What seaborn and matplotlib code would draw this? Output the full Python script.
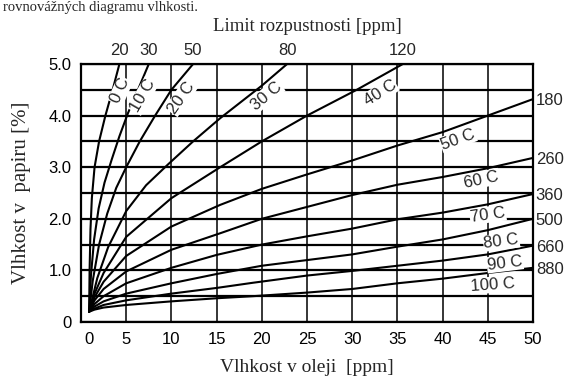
import numpy as np
import pandas as pd
import matplotlib
matplotlib.use("Agg")
import matplotlib.pyplot as plt
import matplotlib.transforms as mtransforms
import seaborn as sns
from matplotlib.ticker import MultipleLocator, FuncFormatter

# ---------------- data ----------------
temps = ["0 C", "10 C", "20 C", "30 C", "40 C", "50 C",
         "60 C", "70 C", "80 C", "90 C", "100 C"]

x_0 = [0.9, 0.95, 1.05, 1.2, 1.5, 2.0, 2.7, 3.5, 4.25]
y_0 = [0.2, 1.0, 1.8, 2.4, 3.0, 3.5, 4.0, 4.5, 5.0]
x_10 = [0.9, 1.1, 1.45, 1.95, 2.6, 3.4, 4.25, 5.2, 6.3, 7.5]
y_10 = [0.2, 0.9, 1.6, 2.2, 2.7, 3.15, 3.6, 4.05, 4.5, 5.0]
x_20 = [0.9, 1.3, 2.0, 2.9, 3.9, 5.0, 6.5, 8.2, 10.0, 12.4]
y_20 = [0.2, 0.8, 1.5, 2.1, 2.6, 3.0, 3.5, 4.0, 4.5, 5.0]
x_30 = [0.9, 1.8, 3.0, 5.0, 7.2, 9.6, 12.4, 15.4, 20.0, 22.8]
y_30 = [0.2, 0.85, 1.45, 2.15, 2.65, 3.05, 3.5, 3.95, 4.58, 5.0]
x_40 = [0.9, 1.5, 2.5, 5.0, 10.0, 15.4, 20.0, 25.0, 30.5, 35.6]
y_40 = [0.2, 0.55, 0.95, 1.65, 2.4, 3.0, 3.5, 4.0, 4.5, 5.0]
x_50 = [0.9, 1.5, 2.5, 5.0, 10.0, 15.4, 20.0, 25.0, 30.0, 35.0, 40.0, 45.0, 50.0]
y_50 = [0.2, 0.48, 0.78, 1.28, 1.85, 2.27, 2.58, 2.86, 3.13, 3.42, 3.68, 4.0, 4.32]
x_60 = [0.9, 1.5, 2.5, 5.0, 10.0, 15.4, 20.0, 25.0, 30.0, 35.0, 40.0, 45.0, 50.0]
y_60 = [0.2, 0.42, 0.64, 0.98, 1.4, 1.72, 2.0, 2.23, 2.46, 2.66, 2.81, 2.98, 3.18]
x_70 = [0.9, 1.5, 2.5, 5.0, 10.0, 15.0, 20.0, 25.0, 30.0, 35.0, 40.0, 45.0, 50.0]
y_70 = [0.2, 0.35, 0.5, 0.75, 1.05, 1.3, 1.5, 1.66, 1.81, 1.99, 2.12, 2.28, 2.48]
x_80 = [0.9, 1.5, 2.5, 5.0, 10.0, 15.0, 20.0, 25.0, 30.0, 35.0, 40.0, 45.0, 50.0]
y_80 = [0.2, 0.3, 0.4, 0.55, 0.75, 0.93, 1.09, 1.2, 1.31, 1.46, 1.6, 1.78, 2.0]
x_90 = [0.9, 1.5, 2.5, 5.0, 10.0, 15.0, 19.0, 25.0, 30.0, 35.0, 40.0, 45.0, 50.0]
y_90 = [0.2, 0.26, 0.33, 0.42, 0.55, 0.66, 0.76, 0.9, 0.99, 1.09, 1.19, 1.31, 1.48]
x_100 = [0.9, 1.5, 2.5, 5.0, 10.0, 15.0, 19.0, 25.0, 30.0, 35.0, 40.0, 45.0, 50.0]
y_100 = [0.2, 0.24, 0.28, 0.33, 0.4, 0.46, 0.5, 0.57, 0.64, 0.75, 0.84, 0.95, 1.05]

curves_x = [x_0, x_10, x_20, x_30, x_40, x_50, x_60, x_70, x_80, x_90, x_100]
curves_y = [y_0, y_10, y_20, y_30, y_40, y_50, y_60, y_70, y_80, y_90, y_100]

top_labels = ["20", "30", "50", "80", "120"]                # solubility, 0..40 C
right_labels = ["180", "260", "360", "500", "660", "880"]   # solubility, 50..100 C

x_ticks = [0, 5, 10, 15, 20, 25, 30, 35, 40, 45, 50]

# label anchor (x, y, angle) for each curve label
lab_x = [4.35, 6.85, 11.1, 20.5, 33.1, 41.7, 44.3, 45.0, 46.5, 46.9, 45.6]
lab_y = [4.48, 4.38, 4.35, 4.38, 4.44, 3.54, 2.76, 2.08, 1.56, 1.14, 0.72]
lab_rot = [66, 60, 55, 40, 32, 20, 12, 8, 7, 7, 4]

# ---------------- build table ----------------
rows = []
for t, xs, ys in zip(temps, curves_x, curves_y):
    for i, (xx, yy) in enumerate(zip(xs, ys)):
        rows.append({"temp": t, "order": i, "oil": xx, "paper": yy})
df = pd.DataFrame(rows)

# ---------------- figure ----------------
sns.set_style("white")
plt.rcParams["font.family"] = ["Liberation Sans", "DejaVu Sans"]
serif = ["Liberation Serif", "DejaVu Serif"]

fig = plt.figure(figsize=(5.66, 3.81), dpi=100)
ax = fig.add_axes([81 / 566, 1 - 322 / 381, (533 - 81) / 566, (322 - 64) / 381])

sns.lineplot(data=df, x="oil", y="paper", hue="temp", units="temp",
             estimator=None, sort=False, palette=["black"] * len(temps),
             linewidth=1.5, legend=False, ax=ax, zorder=3)

ax.set_xlim(0, 50)
ax.set_ylim(0, 5.0)

ax.set_xticks(x_ticks)
ax.xaxis.set_minor_locator(MultipleLocator(1))
ax.yaxis.set_major_locator(MultipleLocator(0.5))
ax.yaxis.set_minor_locator(MultipleLocator(0.1))


def yfmt(v, pos):
    if abs(v) < 1e-9:
        return "0"
    if abs(v - round(v)) < 1e-9:
        return f"{v:.1f}"
    return ""


ax.yaxis.set_major_formatter(FuncFormatter(yfmt))

ax.grid(True, which="major", axis="y", color="black", linewidth=1.6, zorder=1)
ax.grid(True, which="major", axis="x", color="black", linewidth=1.1, zorder=1)
ax.set_axisbelow(True)

for s in ax.spines.values():
    s.set_linewidth(1.6)
    s.set_color("black")

ax.tick_params(axis="both", which="major", labelsize=12, length=4, width=1.2,
               color="black", labelcolor="black", direction="out", pad=3)
ax.tick_params(axis="both", which="minor", length=3, width=1.0, color="black",
               direction="out")

# the "0" on the x axis sits a little right of the frame in the reference
fig.canvas.draw()
shift = mtransforms.ScaledTranslation(8 / 100, 0, fig.dpi_scale_trans)
lbl0 = ax.get_xticklabels()[0]
lbl0.set_transform(lbl0.get_transform() + shift)

ax.set_xlabel("Vlhkost v oleji  [ppm]", family=serif, fontsize=14, labelpad=9)
ax.set_ylabel("Vlhkost v  papiru [%]", family=serif, fontsize=15, labelpad=12)

# top axis: solubility limits where the cool curves leave the top edge
top = ax.secondary_xaxis("top")
top.set_xticks([xs[-1] for xs in curves_x[:5]])
top.set_xticklabels(top_labels)
top.tick_params(length=0, labelsize=12, pad=4)
top.spines["top"].set_visible(False)
top.set_xlabel("Limit rozpustnosti [ppm]", family=serif, fontsize=13.5, labelpad=9)

# right axis: solubility limits where the hot curves meet x = 50
right = ax.secondary_yaxis("right")
right.set_yticks([ys[-1] for ys in curves_y[5:]])
right.set_yticklabels(right_labels)
right.tick_params(length=0, labelsize=12, pad=2)
right.spines["right"].set_visible(False)

# curve labels
for t, lx, ly, r in zip(temps, lab_x, lab_y, lab_rot):
    ax.text(lx, ly, t, rotation=r, rotation_mode="anchor", ha="center",
            va="center", fontsize=12, zorder=4,
            bbox=dict(facecolor="white", edgecolor="none", pad=0.5))

# caption line at the very top of the picture
fig.text(0.005, 1 - 1 / 381, "rovnovážných diagramu vlhkosti.", family=serif,
         fontsize=10.5, ha="left", va="top")

fig.savefig("out.png", dpi=100)
